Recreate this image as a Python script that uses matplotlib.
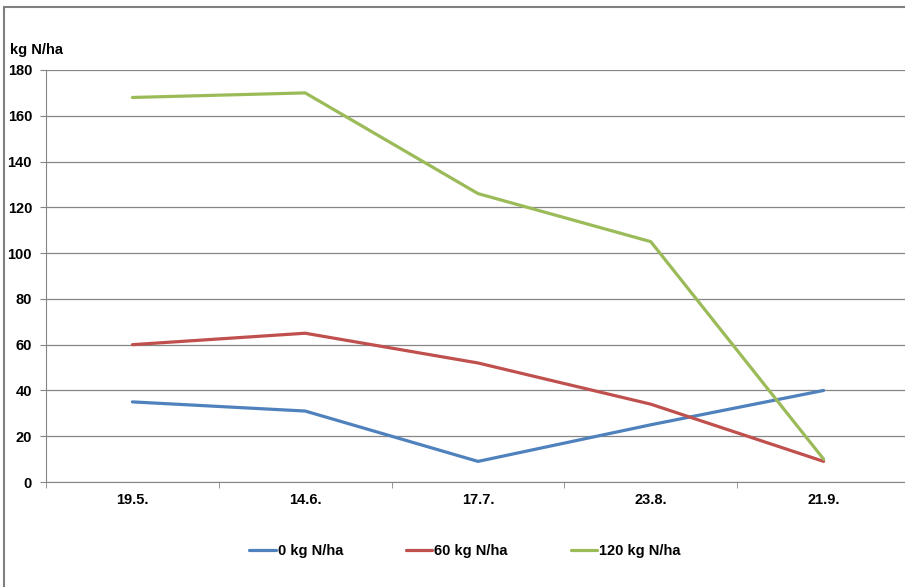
import matplotlib.pyplot as plt
from matplotlib.patches import Rectangle

dates = ["19.5.", "14.6.", "17.7.", "23.8.", "21.9."]
n0 = [35, 31, 9, 25, 40]
n60 = [60, 65, 52, 34, 9]
n120 = [168, 170, 126, 105, 10]
yticks = [0, 20, 40, 60, 80, 100, 120, 140, 160, 180]

plt.rcParams['font.family'] = ['Liberation Sans', 'DejaVu Sans']
plt.rcParams['font.weight'] = 'bold'
fs = 10.5

W, H = 905, 587
fig = plt.figure(figsize=(W / 100, H / 100), dpi=100)

# outer chart frame (right and bottom edges fall outside the picture)
fig.patches.append(Rectangle((4 / W, -0.05), 1.2, 1 - 6.5 / H + 0.05,
                             transform=fig.transFigure, fill=False,
                             edgecolor='#7f7f7f', linewidth=1.5))

ax = fig.add_axes([46 / W, 1 - 482 / H, 864 / W, 412 / H])
x = list(range(len(dates)))
ax.plot(x, n0, color='#4F81BD', linewidth=2.3, label='0 kg N/ha', solid_capstyle='round')
ax.plot(x, n60, color='#C0504D', linewidth=2.3, label='60 kg N/ha', solid_capstyle='round')
ax.plot(x, n120, color='#9BBB59', linewidth=2.3, label='120 kg N/ha', solid_capstyle='round')

ax.set_xlim(-0.5, len(dates) - 0.5)
ax.set_ylim(0, 180)
ax.set_yticks(yticks)
ax.set_yticklabels([str(v) for v in yticks], fontsize=fs, fontweight='bold')
ax.set_xticks(x)
ax.set_xticklabels(dates, fontsize=fs, fontweight='bold')
ax.set_xticks([i - 0.5 for i in range(len(dates) + 1)], minor=True)
ax.tick_params(axis='x', which='major', length=0, pad=8)
ax.tick_params(axis='x', which='minor', length=4, color='#868686')
ax.tick_params(axis='y', length=4, color='#868686', pad=6)
ax.grid(axis='y', color='#868686', linewidth=0.9)
ax.set_axisbelow(True)
for s in ['top', 'right']:
    ax.spines[s].set_visible(False)
ax.spines['left'].set_color('#868686')
ax.spines['bottom'].set_color('#868686')

fig.text(10 / W, 1 - 50 / H, 'kg N/ha', fontsize=fs, fontweight='bold', va='center', ha='left')

fig.legend(loc='center', bbox_to_anchor=(465 / W, 1 - 551 / H), ncol=3, frameon=False,
           fontsize=fs, handlelength=1.8, handletextpad=0.15, columnspacing=4.3)

fig.savefig('out.png', dpi=100)
